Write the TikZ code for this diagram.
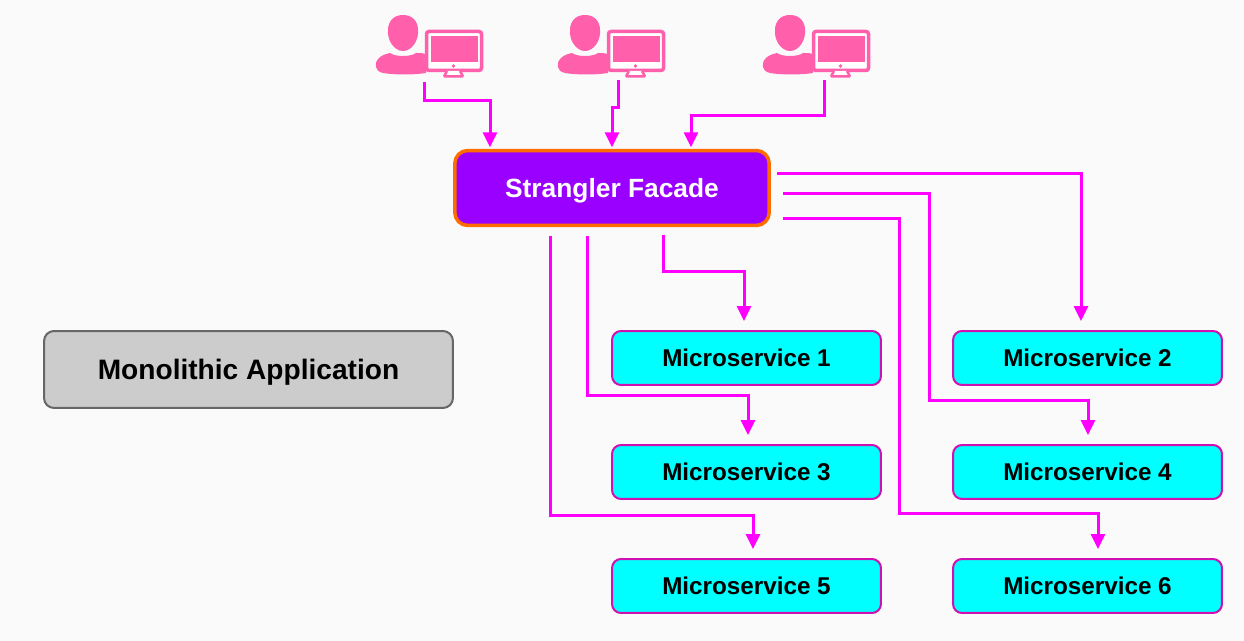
\documentclass[tikz,border=0pt]{standalone}
\usepackage{fontspec}
\setmainfont{Liberation Sans}
\usetikzlibrary{arrows.meta}

\definecolor{iconpink}{HTML}{FF5FAB}
\definecolor{flowpink}{HTML}{FF00FF}
\definecolor{facadeviolet}{HTML}{9900FF}
\definecolor{facadeedge}{HTML}{FF6D01}
\definecolor{pagegray}{HTML}{FAFAFA}
\definecolor{msfill}{HTML}{00FFFF}
\definecolor{msedge}{HTML}{D010B0}

\tikzset{
  monobox/.style={draw=black!60, line width=0.04cm, fill=black!20, rounded corners=0.2cm, text depth=0pt,
    minimum width=8.18cm, minimum height=1.54cm, font=\fontsize{16}{18}\selectfont\bfseries},
  facadebox/.style={draw=facadeedge, line width=0.07cm, fill=facadeviolet, text=white, rounded corners=0.26cm, text depth=0pt,
    minimum width=6.29cm, minimum height=1.5cm, font=\fontsize{15}{17}\selectfont\bfseries},
  msbox/.style={draw=msedge, line width=0.04cm, fill=msfill, rounded corners=0.18cm,
    minimum width=5.38cm, minimum height=1.08cm, font=\fontsize{13.8}{16}\selectfont\bfseries},
  flow/.style={draw=flowpink, line width=0.06cm, -{Triangle[length=0.3cm,width=0.28cm]}, shorten >=0.03cm},
  flowgap/.style={flow, shorten >=0.18cm},
  userpc/.pic={
    % person
    \fill[iconpink] (0,-18) .. controls (10,-18) and (15,-11) .. (15,-3) .. controls (16,7) and (9,18) .. (0,18)
      .. controls (-9,18) and (-16,7) .. (-15,-3) .. controls (-15,-11) and (-10,-18) .. (0,-18) -- cycle;
    \fill[iconpink] (-13,20) .. controls (-8,24) and (8,24) .. (13,20) .. controls (17,20) and (20,20) .. (23,21)
      -- (23,40) .. controls (10,42) and (-8,42) .. (-20,40) .. controls (-29,38) and (-29,30) .. (-24,25)
      .. controls (-21,22) and (-17,21) .. (-13,20) -- cycle;
    % monitor
    \draw[iconpink, line width=0.07cm, fill=white, rounded corners=0.05cm] (23.5,-1.5) rectangle (78.5,37.5);
    \fill[iconpink] (28,3) rectangle (75,29);
    \fill[iconpink] (50.5,33) circle (1.8);
    \draw[iconpink, line width=0.05cm, fill=white, rounded corners=0.02cm] (44,38) -- (41,43.5) -- (60,43.5) -- (57,38);
  }
}

\begin{document}
\begin{tikzpicture}[x=0.02cm, y=-0.02cm]
\useasboundingbox (0,0) rectangle (1244,641);
\fill[pagegray] (0,0) rectangle (1244,641);
% users
\foreach \n/\x in {1/403, 2/585, 3/790}
  \pic (user\n) at (\x,33) {userpc};
% boxes
\node[monobox] (mono) at (248.5,369.5) {Monolithic Application};
\node[facadebox] (fa) at (612,188) {Strangler Facade};
\foreach \n/\x/\y in {1/746.5/358, 2/1087.5/358, 3/746.5/472, 4/1087.5/472, 5/746.5/586, 6/1087.5/586}
  \node[msbox] (ms\n) at (\x,\y) {Microservice \n};
% users to facade
\foreach \n/\x/\y/\bend/\dx in {1/424/82/101/-122, 2/618/80/108/0, 3/824/80/116/79} {
  \coordinate (src\n) at (\x,\y);
  \draw[flow] (src\n) -- (\x,\bend) -| ([shift={(\dx,0)}]fa.north);
}
% facade bottom to services
\foreach \n/\x/\y/\bend/\dx in {1/663/235/272/-2.5, 3/587/236/396/1.5, 5/550/236/516/6.5} {
  \coordinate (out\n) at (\x,\y);
  \draw[flowgap] (out\n) -- (\x,\bend) -| ([shift={(\dx,0)}]ms\n.north);
}
% facade right side to services
\coordinate (out2) at (777,174);
\draw[flowgap] (out2) -| ([shift={(-6.5,0)}]ms2.north);
\foreach \n/\y/\xmid/\bend/\dx in {4/194/929/401/0.5, 6/219/899/514/10.5} {
  \coordinate (out\n) at (783,\y);
  \draw[flowgap] (out\n) -| (\xmid,\bend) -| ([shift={(\dx,0)}]ms\n.north);
}
\end{tikzpicture}
\end{document}
